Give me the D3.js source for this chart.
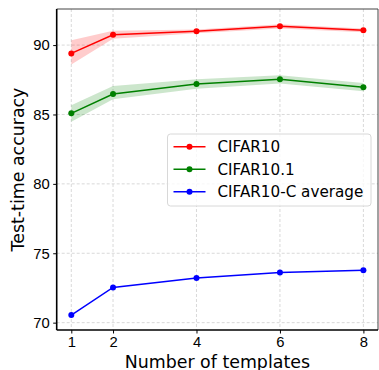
<!DOCTYPE html>
<html>
<head>
<meta charset="utf-8">
<script src="https://cdn.jsdelivr.net/npm/d3@7"></script>
<style>
  body { margin: 0; background: #fff; }
  svg { font-family: "DejaVu Sans", sans-serif; }
</style>
</head>
<body>
<div id="chart"></div>
<script>
const templates = [1, 2, 4, 6, 8];
const cifar10 = [89.4, 90.74, 90.99, 91.35, 91.06];
const cifar10Lo = [88.6, 90.45, 90.85, 91.2, 90.92];
const cifar10Hi = [90.35, 91.03, 91.12, 91.5, 91.2];
const cifar101 = [85.08, 86.47, 87.19, 87.53, 86.97];
const cifar101Lo = [84.47, 86.09, 86.85, 87.23, 86.67];
const cifar101Hi = [85.66, 87.05, 87.53, 87.83, 87.27];
const cifarC = [70.55, 72.54, 73.21, 73.62, 73.77];
const yTicks = [70, 75, 80, 85, 90];
const seriesNames = ["CIFAR10", "CIFAR10.1", "CIFAR10-C average"];

const width = 379, height = 370;
const margin = {top: 9, right: 1, bottom: 40, left: 56.7};

const svg = d3.select("#chart").append("svg")
    .attr("width", width).attr("height", height)
    .attr("viewBox", [0, 0, width, height]);

const x = d3.scaleLinear().domain([0.65, 8.35])
    .range([margin.left, width - margin.right]);
const y = d3.scaleLinear().domain([69.47, 92.6])
    .range([height - margin.bottom, margin.top]);

// grid
svg.append("g").selectAll("line").data(templates).join("line")
    .attr("x1", d => x(d)).attr("x2", d => x(d))
    .attr("y1", y.range()[1]).attr("y2", y.range()[0])
    .attr("stroke", "#cfcfcf").attr("stroke-width", 0.8).attr("stroke-dasharray", "3,2");
svg.append("g").selectAll("line").data(yTicks).join("line")
    .attr("x1", x.range()[0]).attr("x2", x.range()[1])
    .attr("y1", d => y(d)).attr("y2", d => y(d))
    .attr("stroke", "#cfcfcf").attr("stroke-width", 0.8).attr("stroke-dasharray", "3,2");

const series = [
  {name: seriesNames[0], color: "red", band: "rgba(255,0,0,0.2)", vals: cifar10, lo: cifar10Lo, hi: cifar10Hi},
  {name: seriesNames[1], color: "green", band: "rgba(0,128,0,0.2)", vals: cifar101, lo: cifar101Lo, hi: cifar101Hi},
  {name: seriesNames[2], color: "blue", vals: cifarC}
];

const area = d3.area().x(d => x(d.x)).y0(d => y(d.lo)).y1(d => y(d.hi));
const line = d3.line().x(d => x(d.x)).y(d => y(d.v));

series.forEach(s => {
  if (s.lo) {
    svg.append("path")
      .datum(templates.map((t, i) => ({x: t, lo: s.lo[i], hi: s.hi[i]})))
      .attr("d", area).attr("fill", s.band);
  }
  const pts = templates.map((t, i) => ({x: t, v: s.vals[i]}));
  svg.append("path").datum(pts).attr("d", line)
    .attr("fill", "none").attr("stroke", s.color).attr("stroke-width", 1.5);
  svg.append("g").selectAll("circle").data(pts).join("circle")
    .attr("cx", d => x(d.x)).attr("cy", d => y(d.v)).attr("r", 3)
    .attr("fill", s.color);
});

// frame
const [x0, x1] = x.range(), [y0, y1] = y.range();
svg.append("line").attr("x1", x0).attr("x2", x1).attr("y1", y1).attr("y2", y1).attr("stroke", "#444").attr("stroke-width", 1);
svg.append("line").attr("x1", x1).attr("x2", x1).attr("y1", y1).attr("y2", y0).attr("stroke", "#444").attr("stroke-width", 1);

svg.append("g")
    .attr("transform", `translate(0,${y0})`)
    .call(d3.axisBottom(x).tickValues(templates).tickSize(3.5).tickPadding(3).tickSizeOuter(0))
    .call(g => g.select(".domain").attr("stroke-width", 1.6).attr("d", `M${x0},0H${x1}`))
    .call(g => g.selectAll("text").style("font-size", "14.8px").attr("fill", "#000"));

svg.append("g")
    .attr("transform", `translate(${x0},0)`)
    .call(d3.axisLeft(y).tickValues(yTicks).tickSize(3.5).tickPadding(3.5).tickSizeOuter(0))
    .call(g => g.select(".domain").attr("stroke-width", 1.6).attr("d", `M0,${y0}V${y1}`))
    .call(g => g.selectAll("text").style("font-size", "14.8px").attr("fill", "#000"));

svg.append("text")
    .attr("x", (x0 + x1) / 2).attr("y", 367.5)
    .attr("text-anchor", "middle").style("font-size", "17.4px")
    .text("Number of templates");

svg.append("text")
    .attr("transform", `translate(24,${(y0 + y1) / 2}) rotate(-90)`)
    .attr("text-anchor", "middle").style("font-size", "17.4px")
    .text("Test-time accuracy");

// legend
const lg = svg.append("g").attr("transform", "translate(167.5,134)");
lg.append("rect").attr("width", 203.5).attr("height", 72).attr("rx", 3)
    .attr("fill", "rgba(255,255,255,0.8)").attr("stroke", "#d8d8d8");
series.forEach((s, i) => {
  const ry = 12.7 + i * 22.5;
  lg.append("line").attr("x1", 6).attr("x2", 38).attr("y1", ry).attr("y2", ry)
    .attr("stroke", s.color).attr("stroke-width", 1.5);
  lg.append("circle").attr("cx", 22).attr("cy", ry).attr("r", 3).attr("fill", s.color);
  lg.append("text").attr("x", 50).attr("y", ry).attr("dy", "0.36em")
    .style("font-size", "15.2px").text(s.name);
});
</script>
</body>
</html>
